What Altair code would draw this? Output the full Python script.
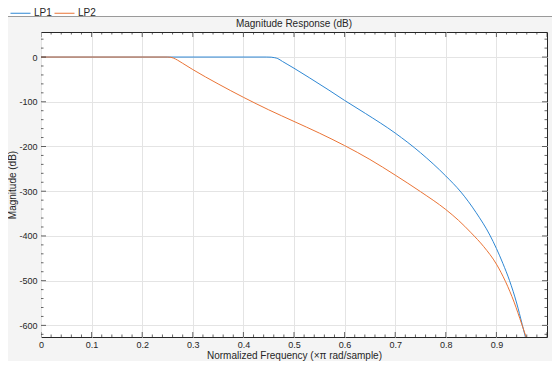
import altair as alt
import pandas as pd

# ---- data ----
series_names = ["LP1", "LP2"]
series_colors = ["#2f88d4", "#ea7436"]

lp1_f = [0.0, 0.445, 0.455, 0.462, 0.468, 0.477, 0.488, 0.5, 0.53, 0.569, 0.6, 0.641, 0.7,
         0.75, 0.8, 0.83, 0.86, 0.887, 0.9, 0.913, 0.926, 0.94, 0.951, 0.9575]
lp1_db = [0, 0, -0.3, -1.5, -3.5, -9.7, -17, -25, -46, -74, -97, -126, -170,
          -214, -266, -302, -348, -398, -428, -462, -500, -550, -598, -627]

lp2_f = [0.0, 0.25, 0.256, 0.262, 0.27, 0.28, 0.3, 0.35, 0.4, 0.45, 0.5, 0.55, 0.6,
         0.65, 0.7, 0.75, 0.8, 0.825, 0.85, 0.875, 0.9, 0.918, 0.935, 0.95, 0.959]
lp2_db = [0, 0, -0.5, -2.5, -7, -14, -28, -60, -90, -118, -144, -170, -198,
          -229, -264, -301, -341, -365, -393, -424, -463, -502, -548, -597, -627]

x_tick_labels = [0, 0.1, 0.2, 0.3, 0.4, 0.5, 0.6, 0.7, 0.8, 0.9]
y_tick_labels = [0, -100, -200, -300, -400, -500, -600]
chart_title = "Magnitude Response (dB)"
x_title = "Normalized Frequency (×π rad/sample)"
y_title = "Magnitude (dB)"

X_DOMAIN = [0, 1]
Y_DOMAIN = [-626, 56]

# tick positions (axis decoration)
x_major = [round(i * 0.1, 2) for i in range(0, 11)]
x_minor = [round(i * 0.02, 2) for i in range(0, 51) if i % 5 != 0]
y_major = [v for v in range(-600, 1, 100)]
y_minor = [v for v in range(-620, 41, 20) if v % 100 != 0]

W, H = 506, 305
FONT = "Liberation Sans"
AX = "#262626"
GRID = "#e4e4e4"

lines_df = pd.concat([
    pd.DataFrame({"f": lp1_f, "dB": lp1_db, "filter": series_names[0]}),
    pd.DataFrame({"f": lp2_f, "dB": lp2_db, "filter": series_names[1]}),
], ignore_index=True)

xt_df = pd.DataFrame({"f": x_major + x_minor,
                      "len": [10] * len(x_major) + [5] * len(x_minor)})
yt_df = pd.DataFrame({"dB": y_major + y_minor,
                      "len": [10] * len(y_major) + [5] * len(y_minor)})

xs = alt.Scale(domain=X_DOMAIN, nice=False, zero=False)
ys = alt.Scale(domain=Y_DOMAIN, nice=False, zero=False)

x_axis = alt.Axis(
    values=x_tick_labels, labelExpr="'' + datum.value",
    grid=True, gridColor=GRID, gridWidth=1,
    ticks=False, tickSize=0, domain=False,
    labelPadding=3, labelFontSize=9, labelColor=AX, labelFont=FONT,
    labelFlush=False, labelOverlap=False,
    title=x_title, titleFont=FONT, titleFontSize=10, titleFontWeight="normal",
    titleColor=AX, titleX=W / 2, titleY=18, titleAlign="center", titleBaseline="middle")
y_axis = alt.Axis(
    values=y_tick_labels, labelExpr="'' + datum.value",
    grid=True, gridColor=GRID, gridWidth=1,
    ticks=False, tickSize=0, domain=False,
    labelPadding=4, labelFontSize=9, labelColor=AX, labelFont=FONT,
    labelFlush=False, labelOverlap=False,
    title=y_title, titleFont=FONT, titleFontSize=10, titleFontWeight="normal",
    titleColor=AX, titleX=-28.5, titleY=H / 2, titleAlign="center", titleBaseline="middle")

one = pd.DataFrame({"a": [0]})

band = alt.Chart(one).mark_rect(color="white", clip=False).encode(
    x=alt.value(-45), x2=alt.value(W + 20), y=alt.value(-24), y2=alt.value(-16)
)
band_line = alt.Chart(one).mark_rule(color="#9a9a9a", strokeWidth=1, clip=False).encode(
    x=alt.value(-45), x2=alt.value(W + 20), y=alt.value(-15.5)
)
title_text = alt.Chart(one).mark_text(
    text=chart_title, font=FONT, fontSize=10, color=AX, align="center",
    baseline="middle", clip=False
).encode(x=alt.value(W / 2), y=alt.value(-8))

lines = alt.Chart(lines_df).mark_line(strokeWidth=1, clip=True, interpolate="monotone").encode(
    x=alt.X("f:Q", scale=xs, axis=x_axis),
    y=alt.Y("dB:Q", scale=ys, axis=y_axis),
    color=alt.Color("filter:N", scale=alt.Scale(domain=series_names, range=series_colors),
                    legend=alt.Legend(orient="none", legendX=-31, legendY=-29.5,
                                      direction="horizontal", title=None,
                                      symbolType="stroke", symbolSize=400,
                                      symbolStrokeWidth=1, labelFontSize=10,
                                      labelFont=FONT, labelColor=AX, labelOffset=3,
                                      columnPadding=0, zindex=2)),
)


def xticks(ypos):
    return alt.Chart(xt_df).mark_tick(clip=True, thickness=1, color=AX).encode(
        x=alt.X("f:Q", scale=xs, axis=x_axis),
        y=alt.value(ypos),
        size=alt.Size("len:Q", scale=None),
    )


def yticks(xpos):
    return alt.Chart(yt_df).mark_tick(clip=True, thickness=1, color=AX).encode(
        y=alt.Y("dB:Q", scale=ys, axis=y_axis),
        x=alt.value(xpos),
        size=alt.Size("len:Q", scale=None),
    )


chart = alt.layer(
    band, band_line, title_text, lines, xticks(0), xticks(H), yticks(0), yticks(W)
).properties(
    width=W, height=H,
    background="#f4f4f4",
    padding={"left": 33, "top": 24, "right": 5, "bottom": 24},
    autosize=alt.AutoSizeParams(type="none"),
).configure_view(stroke=AX, strokeWidth=1, fill="white")

chart.save("out.html", embed_options={"renderer": "svg", "actions": False})
